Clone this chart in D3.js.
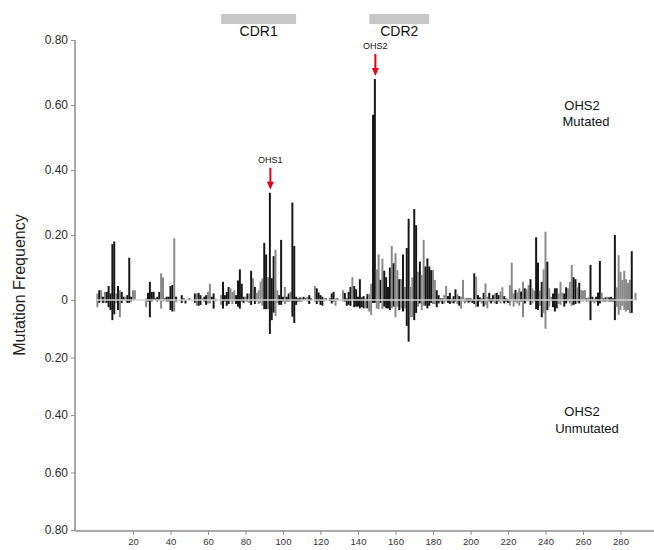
<!DOCTYPE html>
<html><head><meta charset="utf-8">
<script src="https://cdn.jsdelivr.net/npm/d3@7"></script>
<style>body{margin:0;background:#fff}svg{display:block}text{font-family:"Liberation Sans",Arial,sans-serif}</style>
</head><body><svg id="c" width="654" height="550"></svg>
<script>
// Mutation frequency per residue position (1..288)
const mutated = [
0.02,0.03,0.03,0.01,0.025,0.025,0.043,0.02,0.172,0.18,
0.02,0.043,0.03,0.025,0.01,0.01,0.015,0.13,0.01,0.03,
0.03,0,0,0,0,0,0.005,0.022,0.056,0.025,
0.025,0.005,0.01,0.025,0.082,0.07,0.005,0.01,0.01,0.043,
0.046,0.19,0.01,0,0,0.015,0.005,0,0,0.005,
0,0,0.02,0.02,0.022,0.015,0.005,0.01,0.015,0.025,
0.05,0.01,0.02,0.005,0,0,0.015,0.056,0.015,0.025,
0.04,0.036,0.025,0.03,0.015,0.06,0.094,0.05,0.01,0.01,
0.02,0.02,0.09,0.067,0.04,0.022,0.03,0.056,0.066,0.176,
0.14,0.07,0.33,0.067,0.135,0.155,0.03,0.015,0.185,0.01,
0.04,0.01,0.02,0.025,0.30,0.166,0.01,0.005,0.008,0.008,
0.01,0.005,0.01,0.015,0.005,0,0.043,0.036,0.023,0.015,
0.01,0.005,0.005,0,0.005,0.02,0.025,0.005,0.005,0,
0,0.03,0.022,0.005,0.025,0.04,0.07,0.043,0.033,0.01,
0.064,0.008,0.012,0.005,0.018,0.018,0.05,0.57,0.68,0.094,
0.14,0.062,0.127,0.09,0.07,0.04,0.10,0.166,0.113,0.144,
0.092,0.064,0.064,0.14,0.04,0.16,0.25,0.04,0.07,0.28,
0.23,0.087,0.118,0.077,0.185,0.103,0.128,0.103,0.092,0.092,
0.062,0.03,0.015,0.005,0.005,0.015,0.043,0.012,0.022,0.005,
0.012,0.033,0.018,0.012,0.01,0.062,0.005,0.005,0.005,0.005,
0.002,0.082,0.072,0.015,0.008,0.005,0.022,0.051,0.01,0.022,
0.005,0.015,0.02,0.022,0.015,0.026,0.039,0.012,0.005,0.002,
0.046,0.115,0.02,0.031,0.023,0.036,0.026,0.056,0.036,0.033,
0.046,0.064,0.036,0.029,0.193,0.115,0.029,0.056,0.094,0.21,
0.118,0.036,0.01,0.02,0.036,0.036,0.02,0.056,0.023,0.02,
0.039,0.036,0.056,0.108,0.07,0.064,0.039,0.053,0.031,0.029,
0.031,0.005,0.008,0.108,0.01,0.005,0.01,0.023,0.12,0.023,
0.005,0.008,0.01,0.008,0.01,0.005,0.2,0.039,0.138,0.087,
0.062,0.09,0.064,0.053,0.062,0.15,0,0.022];
const unmutated = [
0.025,0.01,0.005,0.01,0.01,0.01,0.025,0.035,0.07,0.05,
0.01,0.035,0.06,0.01,0,0.005,0.01,0.01,0.005,0,
0,0,0,0,0,0,0.025,0.005,0.06,0.005,
0,0,0.005,0,0.03,0.005,0,0.005,0.005,0.035,
0.04,0.04,0.005,0,0,0.01,0,0.012,0,0,
0,0,0.01,0.02,0.02,0.017,0,0.005,0.017,0.012,
0.012,0,0.03,0.005,0,0,0.017,0.03,0.005,0.02,
0.014,0.005,0.014,0.005,0.014,0.023,0.03,0.005,0.01,0.005,
0.005,0.01,0.017,0.005,0.014,0.005,0.014,0.01,0.02,0.032,
0.032,0.032,0.118,0.07,0.044,0.056,0.01,0.017,0.017,0.005,
0.014,0.005,0.005,0.005,0.058,0.08,0.017,0.005,0.005,0.006,
0,0,0.005,0.014,0,0,0.005,0.014,0.005,0.017,
0.02,0.005,0,0,0.003,0.012,0.005,0.02,0,0,
0,0.005,0.005,0.02,0.017,0.02,0.005,0.025,0.023,0.023,
0.029,0.025,0.029,0.029,0.029,0.04,0.052,0.01,0.01,0.03,
0.032,0.01,0.032,0.023,0.029,0.029,0.035,0.029,0.023,0.06,
0.023,0.035,0.029,0.04,0.029,0.09,0.145,0.06,0.06,0.07,
0.045,0.023,0.012,0.035,0.02,0.02,0.029,0.02,0.01,0.014,
0.014,0.025,0.012,0.005,0.014,0.012,0.005,0.01,0.014,0.01,
0.012,0.005,0.014,0.02,0.03,0.005,0.012,0.005,0.009,0.005,
0.01,0.014,0.025,0.023,0.005,0.012,0.023,0.017,0.029,0.005,
0.012,0.005,0.012,0.014,0.005,0.012,0.005,0.012,0.005,0.01,
0.02,0.005,0.023,0.005,0.012,0.02,0.005,0.06,0.012,0.005,
0.005,0.017,0.012,0.005,0.032,0.035,0.02,0.06,0.046,0.1,
0.035,0.023,0.005,0.025,0.04,0.029,0.014,0.017,0.005,0.023,
0.012,0.005,0.012,0.02,0.017,0.014,0.009,0.012,0.005,0.005,
0,0.005,0.005,0.07,0.005,0.012,0.005,0.02,0.012,0.005,
0.005,0.005,0.005,0.005,0.005,0.005,0.07,0.023,0.052,0.035,
0.02,0.035,0.04,0.035,0.046,0.045,0,0];
// bar shade per position: K = dark, G = light
const shade = (
"GKGKGKKKKK"+"GKGKKGKKKG"+"GKKKKKGKKK"+"KKKKGGKKKK"+"KGKKKKKKKK"+
"KKKGKKGKKG"+"GKKGKKGKKK"+"KGGGKKKKKG"+"KGKGKGGGGK"+"KGKKKGGKKK"+
"GKKGKKKKKG"+"KKGKKKGKKK"+"KGKKKKKGKK"+"KGKKKKGKKK"+"KKKGKGGKKG"+
"GKGKKKKGKG"+"GKGKGKKGGK"+"KGKGGKKKKG"+"GKKKKGGKKG"+"KKGKGGGKKK"+
"KKGKKGKGGK"+"KKGKKGGKKK"+"GGGKGGKGKG"+"GKGGKKGKGG"+"KGGKKKGGGK"+
"KGGGKKGKGG"+"GKGKKGKKKG"+"KKGKKKKGGG"+"GGGGGKKG").split("");
const positions = mutated.map((_, i) => i + 1);
const yTicks = [0, 0.2, 0.4, 0.6, 0.8];
const xTicks = [20,40,60,80,100,120,140,160,180,200,220,240,260,280];
const regionNames = ["CDR1", "CDR2"];
const regionStart = [67, 146];
const regionEnd = [107, 178];
const hotspotNames = ["OHS1", "OHS2"];
const hotspotPos = [93, 149];

const svg = d3.select("#c");
svg.append("rect").attr("width",654).attr("height",550).attr("fill","#fff");

const x = d3.scaleLinear().domain([0, 300]).range([95.5, 658]);
const yUp = d3.scaleLinear().domain([0, 0.8]).range([300, 40]);
const yDn = d3.scaleLinear().domain([0, 0.8]).range([300, 530]);
const color = d3.scaleOrdinal().domain(["K","G"]).range(["#161616","#888888"]);
const bw = (x(1) - x(0)) * 1.05;

const data = positions.map((p, i) => ({p, up: mutated[i], dn: unmutated[i], s: shade[i]}));

// bars
const g = svg.append("g");
g.selectAll("rect.up").data(data.filter(d => d.up > 0)).join("rect")
  .attr("x", d => x(d.p) - bw/2).attr("width", bw)
  .attr("y", d => yUp(d.up)).attr("height", d => yUp(0) - yUp(d.up))
  .attr("fill", d => color(d.s));
g.selectAll("rect.dn").data(data.filter(d => d.dn > 0)).join("rect")
  .attr("x", d => x(d.p) - bw/2).attr("width", bw)
  .attr("y", yDn(0)).attr("height", d => yDn(d.dn) - yDn(0))
  .attr("fill", d => color(d.s));

// zero line through bars
svg.append("line").attr("x1", x(0.5)).attr("x2", x(288.5)).attr("y1", yUp(0)).attr("y2", yUp(0))
  .attr("stroke", "#d4d4d4").attr("stroke-width", 1.5);

// axes
const axisColor = "#8c8c8c";
const fmt = v => v === 0 ? "0" : d3.format(".2f")(v);
const ayU = svg.append("g").attr("transform", "translate(75,0)")
  .call(d3.axisLeft(yUp).tickValues(yTicks).tickSize(4).tickFormat(fmt));
const ayD = svg.append("g").attr("transform", "translate(75,0)")
  .call(d3.axisLeft(yDn).tickValues(yTicks.slice(1)).tickSize(4).tickFormat(fmt));
[ayU, ayD].forEach(a => {
  a.select(".domain").remove();
  a.selectAll(".tick line").attr("stroke", axisColor);
  a.selectAll(".tick text").attr("font-size", 12).attr("fill", "#2a2a2a").attr("x", -7);
});
svg.append("line").attr("x1",75).attr("x2",75).attr("y1",yUp(0.8)).attr("y2",yDn(0.8)+1)
  .attr("stroke", axisColor).attr("stroke-width", 1.5);

const ax = svg.append("g").attr("transform", `translate(0,${yDn(0.8)+1})`)
  .call(d3.axisBottom(x).tickValues(xTicks).tickSize(4));
ax.select(".domain").remove();
ax.selectAll(".tick line").attr("stroke", axisColor);
ax.selectAll(".tick text").attr("font-size", 9.5).attr("fill", "#333").attr("y", 7);
svg.append("line").attr("x1",75).attr("x2",654).attr("y1",yDn(0.8)+1).attr("y2",yDn(0.8)+1)
  .attr("stroke", axisColor).attr("stroke-width", 1.5);

// y title
svg.append("text").attr("transform", "translate(25,285) rotate(-90)")
  .attr("text-anchor","middle").attr("font-size",16).attr("fill","#222").text("Mutation Frequency");

// CDR regions
regionNames.forEach((n, i) => {
  svg.append("rect").attr("x", x(regionStart[i])).attr("width", x(regionEnd[i]) - x(regionStart[i]))
    .attr("y", 14).attr("height", 10).attr("fill", "#c6c6c6");
  svg.append("text").attr("x", (x(regionStart[i]) + x(regionEnd[i]))/2).attr("y", 36)
    .attr("text-anchor","middle").attr("font-size",14).attr("fill","#111").text(n);
});

// hotspot arrows
hotspotNames.forEach((n, i) => {
  const p = hotspotPos[i];
  const top = yUp(mutated[p - 1]);
  const cx = x(p) + 0.5;
  const tip = top - 3, start = tip - 22;
  svg.append("line").attr("x1", cx).attr("x2", cx).attr("y1", start).attr("y2", tip - 6)
    .attr("stroke", "#e3001b").attr("stroke-width", 2);
  svg.append("path").attr("d", `M${cx-3.5},${tip-8} L${cx+3.5},${tip-8} L${cx},${tip} Z`).attr("fill", "#e3001b");
  svg.append("text").attr("x", cx).attr("y", start - 5).attr("text-anchor","middle")
    .attr("font-size", 9).attr("fill", "#111").text(n);
});

// panel labels
const lab = (t, xx, yy) => svg.append("text").attr("x", xx).attr("y", yy).attr("text-anchor","middle")
  .attr("font-size", 13).attr("fill", "#111").text(t);
lab("OHS2", 582, 110); lab("Mutated", 586, 126);
lab("OHS2", 582, 416); lab("Unmutated", 587, 433);
</script></body></html>
